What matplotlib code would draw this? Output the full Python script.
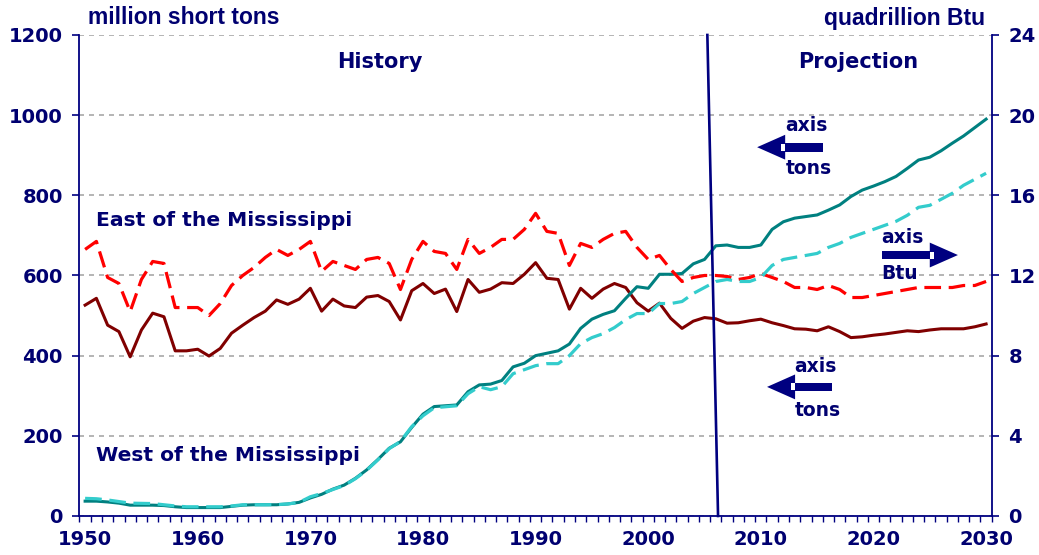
import matplotlib
matplotlib.use('Agg')
import matplotlib.pyplot as plt
from matplotlib import font_manager
from matplotlib.patches import Polygon, Rectangle
import numpy as np

# ---------------- data ----------------
years = list(range(1950, 2031))

east_tons = [526, 543, 476, 460, 397, 464, 506, 497, 412, 412,
             416, 399, 418, 456, 476, 495, 511, 539, 528, 541,
             568, 511, 541, 524, 520, 546, 550, 535, 489, 562,
             580, 555, 566, 510, 590, 558, 566, 582, 580, 603,
             632, 593, 590, 516, 568, 543, 566, 580, 570, 532,
             511, 531, 493, 468, 486, 495, 492, 481, 482, 487,
             491, 482, 475, 467, 466, 462, 472, 460, 445, 447,
             451, 454, 458, 462, 460, 464, 467, 467, 467, 472,
             479]

east_btu = [13.3, 13.7, 11.9, 11.6, 10.2, 11.8, 12.7, 12.6, 10.4, 10.4,
            10.4, 10.0, 10.6, 11.5, 12.0, 12.4, 12.9, 13.3, 13.0, 13.3,
            13.7, 12.2, 12.7, 12.5, 12.3, 12.8, 12.9, 12.6, 11.3, 12.8,
            13.7, 13.2, 13.1, 12.3, 13.8, 13.1, 13.4, 13.8, 13.8, 14.3,
            15.1, 14.2, 14.1, 12.5, 13.6, 13.4, 13.8, 14.1, 14.2, 13.4,
            12.8, 13.0, 12.3, 11.7, 11.9, 12.0, 12.0, 11.95, 11.8, 11.9,
            12.1, 11.9, 11.7, 11.4, 11.4, 11.3, 11.5, 11.3, 10.9, 10.9,
            11.0, 11.1, 11.2, 11.3, 11.4, 11.4, 11.4, 11.4, 11.5, 11.5,
            11.7]

west_tons = [37, 37, 35, 32, 27, 27, 27, 26, 23, 21,
             21, 21, 21, 24, 27, 28, 28, 28, 30, 34,
             45, 54, 67, 77, 94, 115, 141, 169, 185, 221,
             254, 273, 275, 277, 310, 327, 329, 338, 372, 381,
             400, 406, 412, 429, 468, 491, 503, 512, 543, 572,
             568, 603, 603, 605, 629, 640, 674, 676, 670, 670,
             676, 715, 734, 743, 747, 751, 763, 776, 797, 813,
             823, 834, 847, 867, 888, 895, 911, 930, 948, 969,
             990]

west_btu = [0.88, 0.86, 0.80, 0.72, 0.64, 0.63, 0.62, 0.56, 0.50, 0.46,
            0.46, 0.46, 0.46, 0.50, 0.56, 0.56, 0.56, 0.57, 0.60, 0.68,
            0.96, 1.12, 1.32, 1.52, 1.86, 2.28, 2.80, 3.36, 3.72, 4.46,
            5.00, 5.40, 5.45, 5.50, 6.10, 6.45, 6.30, 6.45, 7.10, 7.30,
            7.50, 7.60, 7.60, 8.00, 8.60, 8.90, 9.10, 9.40, 9.80, 10.1,
            10.1, 10.6, 10.6, 10.7, 11.1, 11.4, 11.7, 11.8, 11.7, 11.7,
            11.9, 12.5, 12.8, 12.9, 13.0, 13.1, 13.4, 13.6, 13.9, 14.1,
            14.3, 14.5, 14.7, 15.0, 15.4, 15.5, 15.8, 16.1, 16.5, 16.8,
            17.1]

x_tick_years = [1950, 1960, 1970, 1980, 1990, 2000, 2010, 2020, 2030]
left_ticks = [0, 200, 400, 600, 800, 1000, 1200]
right_ticks = [0, 4, 8, 12, 16, 20, 24]
divider_years = (2005.25, 2006.2)   # slanted history/projection divider (top, bottom)

# ---------------- style ----------------
NAVY = '#000080'
TXT = '#000070'
plt.rcParams['font.family'] = ['DejaVu Sans']
plt.rcParams['font.weight'] = 'bold'
plt.rcParams['lines.scale_dashes'] = False

names = {f.name for f in font_manager.fontManager.ttflist}
narrow = 'Liberation Sans Narrow' if 'Liberation Sans Narrow' in names else 'Liberation Sans'

fig = plt.figure(figsize=(10.39, 5.55), dpi=100)
ax = fig.add_axes([0.0765, 0.0703, 0.878, 0.8667])
ax.set_xlim(1949.5, 2030.5)
ax.set_ylim(0, 1200)
ax2 = ax.twinx()
ax2.set_ylim(0, 24)

for a in (ax, ax2):
    a.spines['top'].set_visible(False)
ax.spines['right'].set_visible(False)
ax2.spines['left'].set_visible(False)
ax2.spines['bottom'].set_visible(False)
for sp in (ax.spines['left'], ax.spines['bottom'], ax2.spines['right']):
    sp.set_color(NAVY)
    sp.set_linewidth(1.3)

ax.set_yticks(left_ticks)
ax.set_yticklabels([str(v) for v in left_ticks])
ax2.set_yticks(right_ticks)
ax2.set_yticklabels([str(v) for v in right_ticks])
ax.set_xticks(x_tick_years)
ax.set_xticklabels([str(v) for v in x_tick_years])
ax.set_xticks(np.arange(1949.5, 2031, 1.0), minor=True)

ax.tick_params(axis='x', which='major', length=0, pad=10, labelsize=14, labelcolor=TXT)
ax.tick_params(axis='x', which='minor', length=4, width=1, color=NAVY, direction='out')
ax.tick_params(axis='y', which='major', length=5, width=1.2, color=NAVY, pad=7,
               labelsize=14, labelcolor=TXT)
ax2.tick_params(axis='y', which='major', length=5, width=1.2, color=NAVY, pad=7,
                labelsize=14, labelcolor=TXT)

ax.yaxis.grid(True, color='#a8a8a8', linestyle=(0, (3.6, 3.6)), linewidth=1.2)
ax.set_axisbelow(True)

# ---------------- series ----------------
ax.plot(years, east_tons, color='#800000', lw=2.2, solid_joinstyle='round', zorder=3)
ax.plot(years, west_tons, color='#008080', lw=2.2, solid_joinstyle='round', zorder=3)
ax2.plot(years, east_btu, color='#FF0000', lw=2.3, linestyle=(0, (12, 5.5)), zorder=3)
ax2.plot(years, west_btu, color='#33CCCC', lw=2.3, linestyle=(0, (12, 5.5)), zorder=3)

# divider line
ax2.plot(list(divider_years), [24, 0], color=NAVY, lw=1.9, zorder=5, clip_on=False)

# ---------------- texts ----------------
tkw = dict(color=TXT, fontweight='bold')
ax.text(1976.2, 1132, 'History', ha='center', va='center', fontsize=15, **tkw)
ax.text(2018.6, 1132, 'Projection', ha='center', va='center', fontsize=15, **tkw)
ax.text(1951.0, 736, 'East of the Mississippi', ha='left', va='center', fontsize=14.6, **tkw)
ax.text(1951.0, 152, 'West of the Mississippi', ha='left', va='center', fontsize=14.6, **tkw)

fig.text(88 / 1039, 1 - 18 / 555, 'million short tons', ha='left', va='center',
         fontsize=16.5, family=[narrow, 'DejaVu Sans'], **tkw)
fig.text(985 / 1039, 1 - 18 / 555, 'quadrillion Btu', ha='right', va='center',
         fontsize=16.5, family=[narrow, 'DejaVu Sans'], **tkw)


def block_arrow(tip, base, end, y, head_half=31, shaft_half=11, notch=0.35):
    d = 1 if end > tip else -1
    ax.add_patch(Polygon([(tip, y), (base, y + head_half), (base, y - head_half)],
                         closed=True, facecolor=NAVY, edgecolor='none', zorder=6))
    ax.add_patch(Rectangle((min(base, end), y - shaft_half), abs(end - base), 2 * shaft_half,
                           facecolor=NAVY, edgecolor='none', zorder=6))
    ax.add_patch(Rectangle((min(base, base - d * notch), y - shaft_half * 0.8), notch,
                           1.6 * shaft_half, facecolor='white', edgecolor='none', zorder=7))


# upper "axis tons" (left arrow)
block_arrow(2009.67, 2012.16, 2015.5, 920)
ax.text(2012.2, 973, 'axis', ha='left', va='center', fontsize=13.5, **tkw)
ax.text(2012.2, 866, 'tons', ha='left', va='center', fontsize=13.5, **tkw)

# lower "axis tons" (left arrow)
block_arrow(2010.55, 2013.04, 2016.33, 322)
ax.text(2013.0, 372, 'axis', ha='left', va='center', fontsize=13.5, **tkw)
ax.text(2013.0, 264, 'tons', ha='left', va='center', fontsize=13.5, **tkw)

# right "axis Btu" (right arrow)
block_arrow(2027.5, 2025.0, 2020.76, 651)
ax.text(2020.7, 694, 'axis', ha='left', va='center', fontsize=13.5, **tkw)
ax.text(2020.7, 606, 'Btu', ha='left', va='center', fontsize=13.5, **tkw)

fig.savefig('out.png', dpi=100)
